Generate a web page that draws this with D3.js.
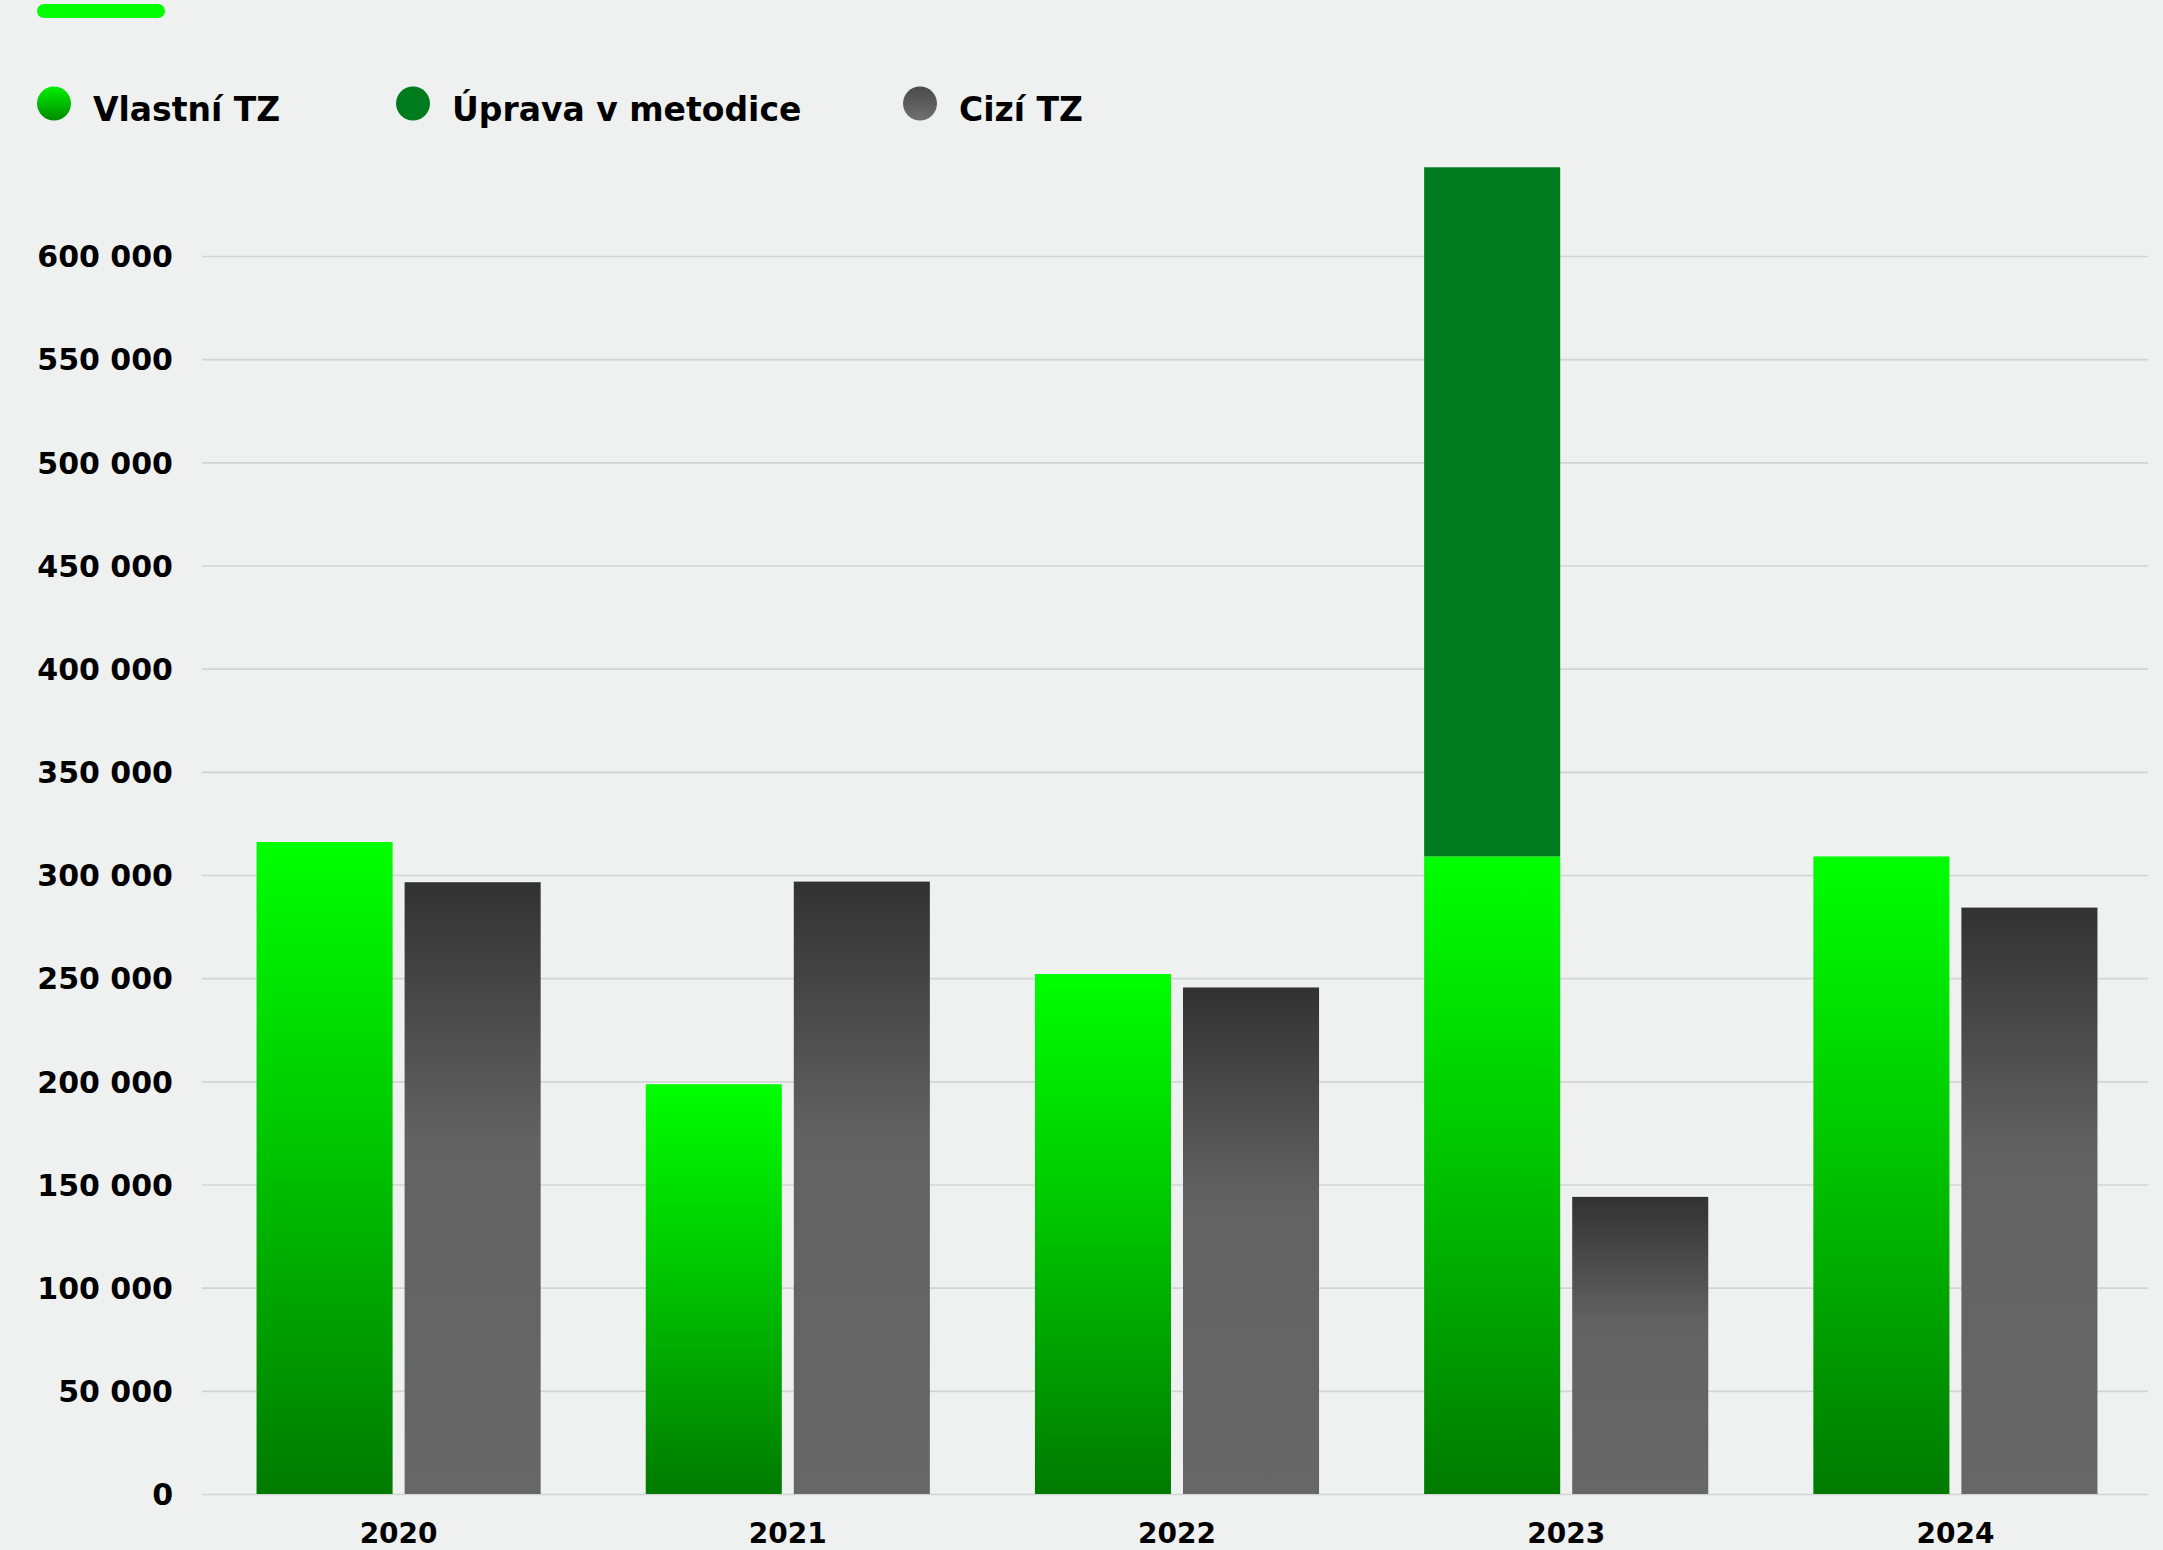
<!DOCTYPE html>
<html>
<head>
<meta charset="utf-8">
<script src="https://cdn.jsdelivr.net/npm/d3@7"></script>
<style>
  html, body { margin: 0; padding: 0; background: #eff1f0; }
  svg { display: block; }
  text { font-family: "DejaVu Sans", sans-serif; font-weight: bold; fill: #000; }
</style>
</head>
<body>
<svg id="chart" width="2163" height="1550"></svg>
<script>
// ---- data ----
const years = ["2020", "2021", "2022", "2023", "2024"];
const seriesNames = ["Vlastní TZ", "Úprava v metodice", "Cizí TZ"];
const vlastniTZ = [316000, 198600, 252000, 309000, 309000];
const upravaMetodice = [0, 0, 0, 334000, 0];
const ciziTZ = [296500, 296800, 245500, 144000, 284200];
const yTicks = [0, 50000, 100000, 150000, 200000, 250000, 300000, 350000, 400000, 450000, 500000, 550000, 600000];

// ---- layout ----
const W = 2163, H = 1550;
const plot = { left: 202, right: 2148, top: 256, bottom: 1494 };
const svg = d3.select("#chart");
svg.append("rect").attr("width", W).attr("height", H).attr("fill", "#eff1f0");

const defs = svg.append("defs");
function grad(id, stops) {
  const g = defs.append("linearGradient").attr("id", id)
    .attr("x1", 0).attr("y1", 0).attr("x2", 0).attr("y2", 1);
  stops.forEach(s => g.append("stop").attr("offset", s[0]).attr("stop-color", s[1]));
}
grad("gGreen", [[0, "#00ff00"], [0.5, "#00c000"], [1, "#007a00"]]);
grad("gGray", [[0, "#323232"], [0.42, "#626262"], [1, "#676767"]]);
grad("gGreenDot", [[0, "#00f000"], [1, "#008a00"]]);
grad("gGrayDot", [[0, "#4a4a4a"], [1, "#707070"]]);

const colors = {
  own: "url(#gGreen)",
  method: "#007c1f",
  foreign: "url(#gGray)"
};

// scales
const x0 = d3.scaleBand().domain(years).range([plot.left + 2, plot.right + 2])
  .paddingInner(0.27).paddingOuter(0.135);
const x1 = d3.scaleBand().domain(["own", "foreign"]).range([0, x0.bandwidth()])
  .paddingInner(0.081).paddingOuter(0);
const y = d3.scaleLinear().domain([0, 600000]).range([plot.bottom, plot.top]);

const loc = d3.formatLocale({ decimal: ",", thousands: " ", grouping: [3], currency: ["", ""] });
const fmt = loc.format(",d");

// gridlines + y labels
const yAxis = d3.axisLeft(y).tickValues(yTicks).tickSize(0).tickFormat(fmt);
const yG = svg.append("g").attr("transform", `translate(${plot.left},0)`).call(yAxis);
yG.select(".domain").remove();
yG.selectAll(".tick text")
  .attr("x", -29)
  .attr("dy", "0.36em")
  .style("font-size", "30px")
  .style("font-family", "DejaVu Sans")
  .style("font-weight", "bold")
  .attr("fill", "#000");
yG.selectAll(".tick").append("line")
  .attr("x1", 0).attr("x2", plot.right - plot.left)
  .attr("stroke", "#d2d4d2").attr("stroke-width", 1.6);

// bars
const rows = years.map((yr, i) => ({
  year: yr, own: vlastniTZ[i], method: upravaMetodice[i], foreign: ciziTZ[i]
}));
const stack = d3.stack().keys(["own", "method"])(rows);

stack.forEach(layer => {
  const key = layer.key;
  svg.append("g").selectAll("rect").data(layer.filter(d => d[1] - d[0] > 0)).join("rect")
    .attr("x", d => x0(d.data.year) + x1("own"))
    .attr("width", x1.bandwidth())
    .attr("y", d => y(d[1]))
    .attr("height", d => y(d[0]) - y(d[1]))
    .attr("fill", colors[key]);
});

svg.append("g").selectAll("rect").data(rows).join("rect")
  .attr("x", d => x0(d.year) + x1("foreign"))
  .attr("width", x1.bandwidth())
  .attr("y", d => y(d.foreign))
  .attr("height", d => y(0) - y(d.foreign))
  .attr("fill", colors.foreign);

// x labels
const xAxis = d3.axisBottom(x0).tickSize(0);
const xG = svg.append("g").attr("transform", `translate(0,${plot.bottom})`).call(xAxis);
xG.select(".domain").remove();
xG.selectAll(".tick text")
  .attr("y", 49).attr("dy", 0)
  .style("font-size", "28px")
  .style("font-family", "DejaVu Sans")
  .style("font-weight", "bold")
  .attr("fill", "#000");

// top accent pill
svg.append("rect").attr("x", 37).attr("y", 4).attr("width", 128).attr("height", 14)
  .attr("rx", 7).attr("fill", "#00ff00");

// legend
const legendX = [37, 396, 903];
const legendFill = ["url(#gGreenDot)", "#007c1f", "url(#gGrayDot)"];
const leg = svg.append("g").selectAll("g").data(seriesNames).join("g")
  .attr("transform", (d, i) => `translate(${legendX[i]},103.5)`);
leg.append("circle").attr("cx", 17).attr("cy", 0).attr("r", 17)
  .attr("fill", (d, i) => legendFill[i]);
leg.append("text").attr("x", 56).attr("y", 17)
  .style("font-size", "33px")
  .text(d => d);
</script>
</body>
</html>
